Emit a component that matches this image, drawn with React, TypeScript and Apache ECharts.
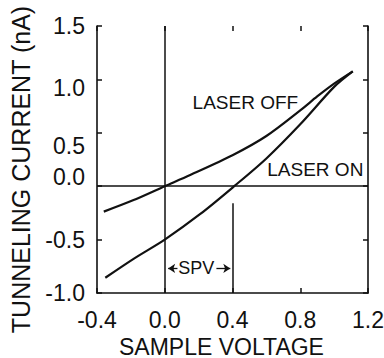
import React, { useEffect, useRef } from "react";
import * as echarts from "echarts";

const xTicks = { min: -0.4, max: 1.2, interval: 0.4 };
const yTicks = { min: -1.0, max: 1.5, interval: 0.5 };

const offX = [-0.36, -0.184, 0.0, 0.15, 0.4, 0.6, 0.8, 0.9, 1.0, 1.11];
const offY = [-0.238, -0.13, 0.0, 0.105, 0.29, 0.47, 0.71, 0.84, 0.96, 1.075];
const onX = [-0.351, -0.184, 0.0, 0.21, 0.41, 0.6, 0.8, 1.0, 1.11];
const onY = [-0.857, -0.68, -0.5, -0.26, 0.0, 0.26, 0.58, 0.93, 1.075];

const spvX = [0.0, 0.4];
const spvLineTop = -0.16;
const spvArrowY = -0.77;

const FONT = "Liberation Sans, Arial, Helvetica, sans-serif";
const INK = "#111";

// hand-lettered label offsets seen in the original figure (styling only)
const yLabelStyle: Record<string, string> = { "1.0": "dn9", "0.5": "dn13", "0.0": "up9" };

export default function App() {
  const ref = useRef<HTMLDivElement>(null);
  useEffect(() => {
    const chart = echarts.init(ref.current!, null, { renderer: "svg" });
    const pairs = (xs: number[], ys: number[]) => xs.map((x, i) => [x, ys[i]]);
    const lab = { fontSize: 23, fontFamily: FONT, color: INK };
    chart.setOption({
      animation: false,
      backgroundColor: "#fff",
      textStyle: { fontFamily: FONT, color: INK },
      grid: {
        left: 97,
        right: 16,
        top: 26,
        bottom: 65,
        containLabel: false,
        outerBoundsMode: "none",
      },
      xAxis: [
        {
          type: "value",
          position: "bottom",
          min: xTicks.min,
          max: xTicks.max,
          interval: xTicks.interval,
          splitLine: { show: false },
          axisLine: { show: true, onZero: false, lineStyle: { color: INK, width: 1.6 } },
          axisTick: { show: true, inside: true, length: 5, lineStyle: { color: INK, width: 1.5 } },
          axisLabel: {
            ...lab,
            margin: 15,
            formatter: (v: number) => v.toFixed(1),
          },
          name: "SAMPLE VOLTAGE",
          nameLocation: "middle",
          nameGap: 40,
          nameTextStyle: {
            color: INK,
            fontSize: 23,
            lineHeight: 18,
            fontFamily: FONT,
            padding: [0, 22, 0, 0],
          },
        },
        {
          type: "value",
          position: "top",
          min: xTicks.min,
          max: xTicks.max,
          interval: xTicks.interval,
          splitLine: { show: false },
          axisLine: { show: false, onZero: false },
          axisTick: { show: true, inside: true, length: 5, lineStyle: { color: INK, width: 1.5 } },
          axisLabel: { show: false },
        },
      ],
      yAxis: [
        {
          type: "value",
          position: "left",
          min: yTicks.min,
          max: yTicks.max,
          interval: yTicks.interval,
          splitLine: { show: false },
          axisLine: { show: true, onZero: false, lineStyle: { color: INK, width: 1.6 } },
          axisTick: { show: true, inside: true, length: 5, lineStyle: { color: INK, width: 1.5 } },
          axisLabel: {
            ...lab,
            margin: 12,
            formatter: (v: number) => {
              const t = v.toFixed(1);
              return `{${yLabelStyle[t] || "n"}|${t}}`;
            },
            rich: {
              n: { ...lab },
              dn9: { ...lab, padding: [18, 0, 0, 0] },
              dn13: { ...lab, padding: [26, 0, 0, 0] },
              up9: { ...lab, padding: [0, 0, 18, 0] },
            },
          },
          name: "TUNNELING CURRENT (nA)",
          nameLocation: "middle",
          nameGap: 64,
          nameTextStyle: { color: INK, fontSize: 25, fontFamily: FONT, padding: [0, 20, 0, 0] },
        },
        {
          type: "value",
          position: "right",
          min: yTicks.min,
          max: yTicks.max,
          interval: yTicks.interval,
          splitLine: { show: false },
          axisLine: { show: true, onZero: false, lineStyle: { color: INK, width: 1.6 } },
          axisTick: { show: true, inside: true, length: 5, lineStyle: { color: INK, width: 1.5 } },
          axisLabel: { show: false },
        },
      ],
      series: [
        {
          type: "line",
          name: "LASER OFF",
          data: pairs(offX, offY),
          smooth: 0.3,
          showSymbol: false,
          lineStyle: { color: INK, width: 2.2 },
          markPoint: {
            symbol: "circle",
            symbolSize: 0,
            label: { show: true, position: "inside", color: INK, fontSize: 19, fontFamily: FONT },
            data: [{ coord: [0.476, 0.78], label: { formatter: "LASER OFF" } }],
          },
          markLine: {
            silent: true,
            symbol: ["none", "none"],
            label: { show: false },
            lineStyle: { color: INK, width: 1.5, type: "solid" },
            data: [
              { xAxis: spvX[0] },
              { yAxis: 0 },
              [
                { coord: [spvX[1], spvLineTop] },
                { coord: [spvX[1], yTicks.min] },
              ],
            ],
          },
        },
        {
          type: "line",
          name: "LASER ON",
          data: pairs(onX, onY),
          smooth: 0.3,
          showSymbol: false,
          lineStyle: { color: INK, width: 2.2 },
          markPoint: {
            symbol: "circle",
            symbolSize: 0,
            label: { show: true, position: "inside", color: INK, fontSize: 19, fontFamily: FONT },
            data: [
              { coord: [0.889, 0.16], label: { formatter: "LASER ON" } },
              { coord: [0.186, spvArrowY], label: { formatter: "SPV", fontSize: 18 } },
            ],
          },
          markLine: {
            silent: true,
            symbolSize: 7,
            label: { show: false },
            lineStyle: { color: INK, width: 1.3, type: "solid" },
            data: [
              [
                { coord: [spvX[0] + 0.02, spvArrowY], symbol: "arrow" },
                { coord: [0.075, spvArrowY], symbol: "none" },
              ],
              [
                { coord: [0.305, spvArrowY], symbol: "none" },
                { coord: [spvX[1] - 0.013, spvArrowY], symbol: "arrow" },
              ],
            ],
          },
        },
      ],
    });
    return () => chart.dispose();
  }, []);
  return (
    <div
      ref={ref}
      style={{ position: "fixed", left: 0, top: 0, width: 384, height: 358, background: "#fff" }}
    />
  );
}
